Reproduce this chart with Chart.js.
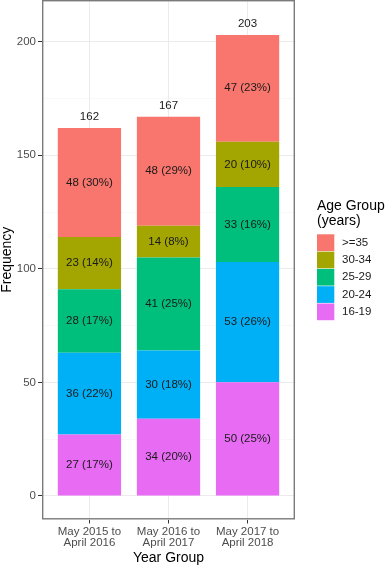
<!DOCTYPE html>
<html>
<head>
<meta charset="utf-8">
<script src="https://cdn.jsdelivr.net/npm/chart.js@4.4.1/dist/chart.umd.min.js"></script>
<style>
  html, body { margin: 0; padding: 0; background: #fff; }
  canvas { display: block; }
</style>
</head>
<body>
<canvas id="age-chart" width="386" height="567"></canvas>
<script>
// Data
const yearGroups = [["May 2015 to", "April 2016"], ["May 2016 to", "April 2017"], ["May 2017 to", "April 2018"]];
const ageGroups = ["16-19", "20-24", "25-29", "30-34", ">=35"]; // bottom -> top of the stack
const ageColors = ["#E76BF3", "#00B0F6", "#00BF7D", "#A3A500", "#F8766D"];
const age16to19 = [27, 34, 50];
const age20to24 = [36, 30, 53];
const age25to29 = [28, 41, 33];
const age30to34 = [23, 14, 20];
const age35plus = [48, 48, 47];
const yTicks = [0, 25, 50, 75, 100, 125, 150, 175, 200];

const seriesValues = [age16to19, age20to24, age25to29, age30to34, age35plus];
const totals = yearGroups.map((g, i) => seriesValues.reduce((sum, s) => sum + s[i], 0));

Chart.defaults.font.family = "'Liberation Sans', Arial, sans-serif";

const FONT = "11.5px 'Liberation Sans', Arial, sans-serif";

// labels inside bars, totals on top, panel border and legend
const annotate = {
  id: "annotate",
  afterDatasetsDraw(chart) {
    const ctx = chart.ctx;
    const area = chart.chartArea;
    const yScale = chart.scales.y;
    ctx.save();
    ctx.font = FONT;
    ctx.fillStyle = "#1a1a1a";
    ctx.textAlign = "center";
    ctx.textBaseline = "middle";

    chart.data.datasets.forEach((ds, d) => {
      chart.getDatasetMeta(d).data.forEach((bar, i) => {
        const v = seriesValues[d][i];
        const pct = Math.round(v / totals[i] * 100);
        ctx.fillText(v + " (" + pct + "%)", bar.x, (bar.y + bar.base) / 2);
      });
    });

    //totals above each bar
    const topMeta = chart.getDatasetMeta(chart.data.datasets.length - 1);
    topMeta.data.forEach((bar, i) => {
      ctx.fillText(String(totals[i]), bar.x, yScale.getPixelForValue(totals[i] + 5));
    });

    //panel border
    ctx.strokeStyle = "#7a7a7a";
    ctx.lineWidth = 1.4;
    ctx.strokeRect(area.left + 0.7, area.top + 0.7, area.right - area.left - 1.4, area.bottom - area.top - 1.4);

    //legend
    const lx = 317;
    ctx.textAlign = "left";
    ctx.fillStyle = "#000";
    ctx.font = "14px 'Liberation Sans', Arial, sans-serif";
    ctx.fillText("Age Group", lx, 206.5);
    ctx.fillText("(years)", lx, 221.5);
    ctx.font = FONT;
    const key = 17.3;
    const order = ageGroups.map((g, i) => i).reverse();
    order.forEach((idx, row) => {
      const top = 234 + row * key;
      ctx.fillStyle = ageColors[idx];
      ctx.fillRect(lx, top + 0.3, key, key - 0.6);
      ctx.fillStyle = "#1a1a1a";
      ctx.fillText(ageGroups[idx], 342, top + key / 2);
    });
    ctx.restore();
  }
};

const isMajor = (ctx) => ctx.tick && ctx.tick.value % 50 === 0;

new Chart(document.getElementById("age-chart").getContext("2d"), {
  type: "bar",
  data: {
    datasets: ageGroups.map((g, d) => ({
      label: g,
      data: seriesValues[d].map((v, i) => ({ x: i + 1, y: v })),
      backgroundColor: ageColors[d],
      borderWidth: 0,
      barPercentage: 0.8,
      categoryPercentage: 1
    }))
  },
  options: {
    responsive: false,
    animation: false,
    layout: { padding: { top: 0, right: 91, bottom: 0, left: 0 } },
    plugins: {
      legend: { display: false },
      tooltip: { enabled: false }
    },
    scales: {
      x: {
        type: "linear",
        min: 0.4,
        max: 3.6,
        offset: false,
        stacked: true,
        afterBuildTicks: (s) => { s.ticks = yearGroups.map((g, i) => ({ value: i + 1 })); },
        afterFit: (s) => { s.height = 47.5; s.paddingLeft = 0; s.paddingRight = 0; },
        ticks: {
          callback: (v) => yearGroups[Math.round(v) - 1],
          color: "#4D4D4D",
          font: { size: 11.5, lineHeight: 1 },
          padding: 2.5,
          maxRotation: 0,
          autoSkip: false
        },
        grid: { offset: false, color: "#EBEBEB", lineWidth: 1, tickLength: 4, tickColor: "#333333" },
        border: { display: false },
        title: {
          display: true, text: "Year Group", color: "#000",
          font: { size: 14, lineHeight: 1.2 }, padding: { top: 0, bottom: 0 }
        }
      },
      y: {
        min: -10.4,
        max: 218.4,
        stacked: true,
        afterBuildTicks: (s) => { s.ticks = yTicks.map(v => ({ value: v })); },
        afterFit: (s) => { s.width = 42; s.paddingTop = 0; s.paddingBottom = 0; },
        ticks: {
          callback: (v) => (v % 50 === 0 ? String(v) : ""),
          color: "#4D4D4D",
          font: { size: 11.5 },
          padding: 2
        },
        grid: {
          color: (ctx) => (isMajor(ctx) ? "#EBEBEB" : "#F3F3F3"),
          lineWidth: (ctx) => (isMajor(ctx) ? 1 : 0.6),
          tickLength: 4,
          tickColor: (ctx) => (isMajor(ctx) ? "#333333" : "rgba(0,0,0,0)")
        },
        border: { display: false },
        title: {
          display: true, text: "Frequency", color: "#000",
          font: { size: 14, lineHeight: 1 }, padding: { top: 0, bottom: 0 }
        }
      }
    }
  },
  plugins: [annotate]
});
</script>
</body>
</html>
